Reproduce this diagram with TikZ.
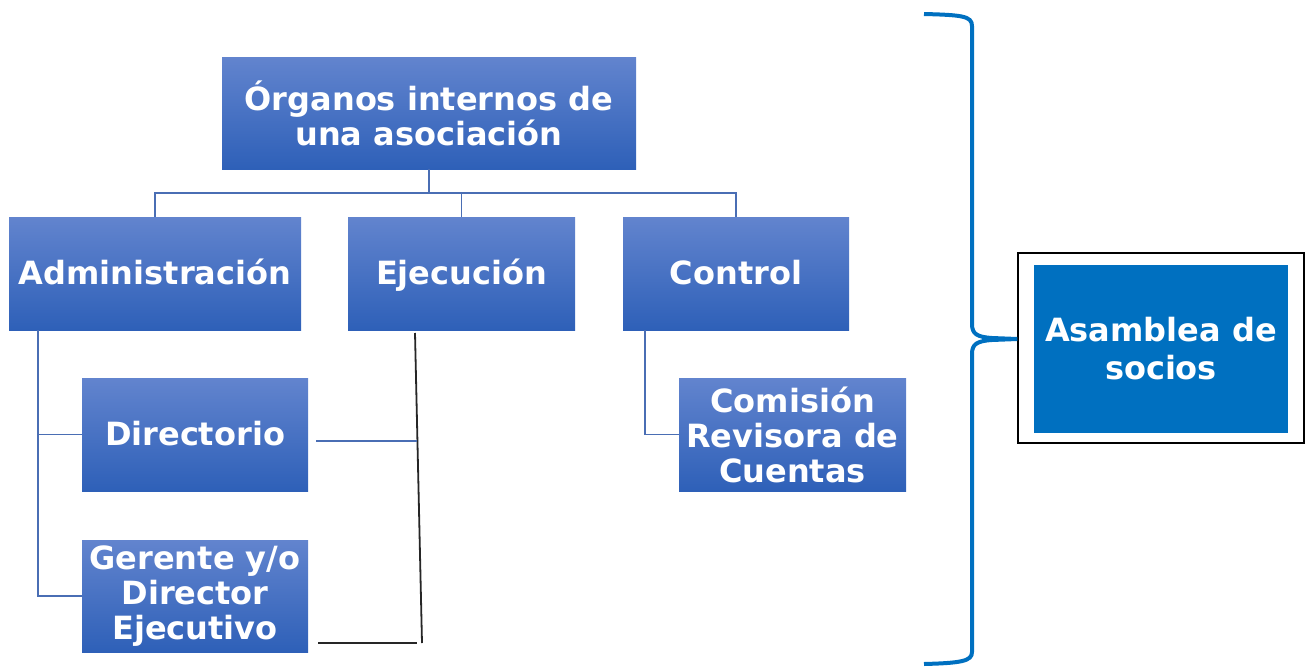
\documentclass[tikz,border=0pt]{standalone}
\usepackage{fontspec}
\setmainfont{DejaVu Sans}
\definecolor{gtop}{RGB}{98,132,206}
\definecolor{gbot}{RGB}{46,96,184}
\definecolor{lnk}{RGB}{74,110,180}
\definecolor{brace}{RGB}{0,112,192}
\newcommand{\eqh}{\vphantom{Ój}}
\tikzset{
  box/.style={rectangle, inner sep=0pt, top color=gtop, bottom color=gbot, draw=none,
    text=white, font=\bfseries\fontsize{32}{35}\selectfont, align=center},
  link/.style={draw=lnk, line width=1.3pt},
  blk/.style={draw=black!85, line width=1.8pt}
}
\begin{document}
\begin{tikzpicture}[x=1pt,y=-1pt]
\useasboundingbox (0,0) rectangle (1310,667);
\node[box, minimum width=414pt, minimum height=112pt] (top) at (429,113) {Órganos internos de\\una asociación};
\node[box, minimum width=292pt, minimum height=113pt] (adm) at (155,273.5) {\eqh Administración};
\node[box, minimum width=227pt, minimum height=113pt] (eje) at (461.5,273.5) {\eqh Ejecución};
\node[box, minimum width=226pt, minimum height=113pt] (con) at (736,273.5) {\eqh Control};
\node[box, minimum width=226pt, minimum height=113pt] (dir) at (195,434.5) {\eqh Directorio};
\node[box, minimum width=226pt, minimum height=112pt] (ger) at (195,596) {Gerente y/o\\Director\\Ejecutivo};
\node[box, minimum width=227pt, minimum height=113pt] (com) at (792.5,434.5) {Comisión\\Revisora de\\Cuentas};
\node[rectangle, draw=black, line width=1.5pt, minimum width=286pt, minimum height=190pt, inner sep=0pt] (asmo) at (1161,348) {};
\node[rectangle, fill=brace, minimum width=254pt, minimum height=168pt, inner sep=0pt, text=white, font=\bfseries\fontsize{32}{38}\selectfont, align=center] (asm) at (1161,349) {Asamblea de\\socios};
% top connectors
\coordinate (j) at (429,193);
\draw[link] (top.south) -- (j);
\draw[link] (adm.north) |- (j) -| (con.north);
\draw[link] (j) -| (eje.north);
% administration
\draw[link] (adm.south -| 38,0) |- (dir.west);
\draw[link] (adm.south -| 38,0) |- (ger.west);
% control
\draw[link] (con.south -| 645,0) |- (com.west);
% ejecucion
\coordinate (e1) at (415,333);
\coordinate (e2) at (417,441);
\coordinate (e3) at (422,643);
\draw[blk] (e1) -- (e3);
\draw[link] (316,441) -- (e2);
\draw[blk] (318,643) -- (417,643);
% brace
\coordinate (tip) at (asmo.west |- 0,339);
\draw[brace, line width=4pt]
  (924,14) .. controls (962,15) and (972,16) .. (972,26) -- (972,324)
  .. controls (972,334) and (977,337) .. (992,338) -- (tip)
  -- (992,340) .. controls (977,341) and (972,344) .. (972,354) -- (972,652)
  .. controls (972,661) and (962,663) .. (924,664);
\end{tikzpicture}
\end{document}
